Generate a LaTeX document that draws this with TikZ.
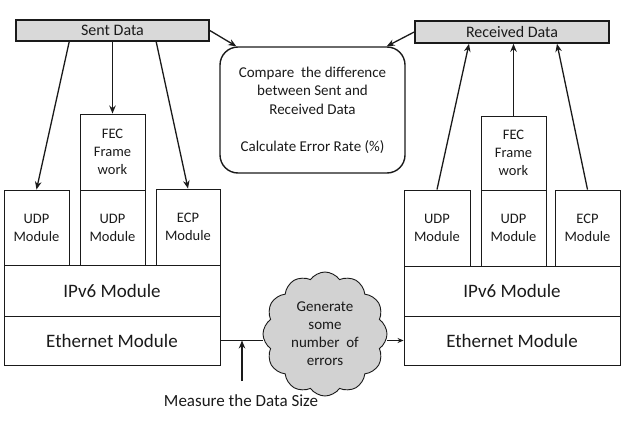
\documentclass[tikz,border=0pt]{standalone}
\usepackage{fontspec}
\setmainfont{Carlito}
\usetikzlibrary{arrows.meta,shapes.symbols}
\definecolor{hdr}{HTML}{D9D9D9}
\definecolor{cloudgray}{HTML}{D2D2D2}
\definecolor{ink}{HTML}{1A1A1A}
\tikzset{
  box/.style={draw=ink, line width=0.9pt, inner sep=0pt, align=center, text=ink,
    font=\fontsize{14.5}{18}\selectfont},
  bigbox/.style={box, font=\fontsize{19}{22}\selectfont},
  hdrbox/.style={draw=ink, fill=hdr, line width=1.6pt, inner sep=0pt, text=ink,
    font=\fontsize{16}{19}\selectfont},
  arr/.style={draw=ink, line width=1.3pt, -{Stealth[length=8pt,width=6.5pt]}},
  conn/.style={draw=ink, line width=1.3pt},
}
\begin{document}
\begin{tikzpicture}[x=1pt,y=-1pt]
\useasboundingbox (0,0) rectangle (631,420);
% headers
\node[hdrbox, minimum width=193pt, minimum height=21pt] (sent) at (112.5,30.5) {Sent Data};
\node[hdrbox, minimum width=194pt, minimum height=22pt] (recv) at (512,32) {Received Data};
% compare box
\node[draw=ink, line width=1.4pt, rounded corners=18pt, minimum width=185pt, minimum height=126pt,
  align=center, text=ink, font=\fontsize{15}{18.5}\selectfont] (cmp) at (312.5,110)
  {Compare\ \ the difference\\ between Sent and\\ Received Data\\[18.5pt] Calculate Error Rate (\%)};
% left stack
\node[box, minimum width=65pt, minimum height=75pt] (lUDPa) at (36.5,227.5) {UDP\\ Module};
\node[box, minimum width=65pt, minimum height=76pt] (lFEC) at (112.5,152) {FEC\\ Frame\\ work};
\node[box, minimum width=65pt, minimum height=75pt] (lUDPb) at (112.5,227.5) {UDP\\ Module};
\node[box, minimum width=64pt, minimum height=76pt] (lECP) at (188,227) {ECP\\ Module};
\node[bigbox, minimum width=216pt, minimum height=51pt] (lIP) at (112,290.5) {IPv6 Module};
\node[bigbox, minimum width=216pt, minimum height=49pt] (lEth) at (112,340.5) {Ethernet Module};
% right stack
\node[box, minimum width=66pt, minimum height=76pt] (rUDPa) at (437,228) {UDP\\ Module};
\node[box, minimum width=65pt, minimum height=74pt] (rFEC) at (513.5,153) {FEC\\ Frame\\ work};
\node[box, minimum width=65pt, minimum height=76pt] (rUDPb) at (513.5,228) {UDP\\ Module};
\node[box, minimum width=65pt, minimum height=76pt] (rECP) at (587.5,228) {ECP\\ Module};
\node[bigbox, minimum width=216pt, minimum height=50pt] (rIP) at (512,291) {IPv6 Module};
\node[bigbox, minimum width=216pt, minimum height=49pt] (rEth) at (512,340.5) {Ethernet Module};
% cloud
\node[cloud, cloud puffs=12, cloud puff arc=110, aspect=1.0, draw=ink, line width=0.9pt,
  fill=cloudgray, minimum width=124pt, minimum height=124pt, inner sep=0pt, align=center,
  text=ink, font=\fontsize{15}{18}\selectfont] (cloud) at (325,334)
  {Generate\\ some\\ number\ \ of\\ errors};
% measure label
\node[text=ink, font=\fontsize{17}{20}\selectfont, inner sep=0pt] (meas) at (241,401) {Measure the Data Size};
\coordinate (mbot) at (242,381);
% arrows from Sent Data
\draw[arr] ([xshift=54pt]sent.south west) -- (lUDPa.north);
\draw[arr] (sent.south -| lFEC.north) -- (lFEC.north);
\draw[arr] ([xshift=141pt]sent.south west) -- (lECP.north);
\draw[arr] (sent.east) -- ([xshift=17pt]cmp.north west);
% arrows to Received Data
\draw[arr] (recv.west) -- ([xshift=-19pt]cmp.north east);
\draw[arr] (rUDPa.north) -- ([xshift=-43pt]recv.south);
\draw[arr] (rFEC.north) -- (recv.south -| rFEC.north);
\draw[arr] (rECP.north) -- ([xshift=45pt]recv.south);
% network path
\draw[conn] (lEth.east) -- (cloud.west |- lEth.east);
\draw[draw=ink, line width=1.3pt, -{Stealth[length=6pt,width=5pt]}] (cloud.east |- rEth.west) -- (rEth.west);
\draw[arr] (mbot) -- (mbot |- lEth.east);
\end{tikzpicture}
\end{document}
